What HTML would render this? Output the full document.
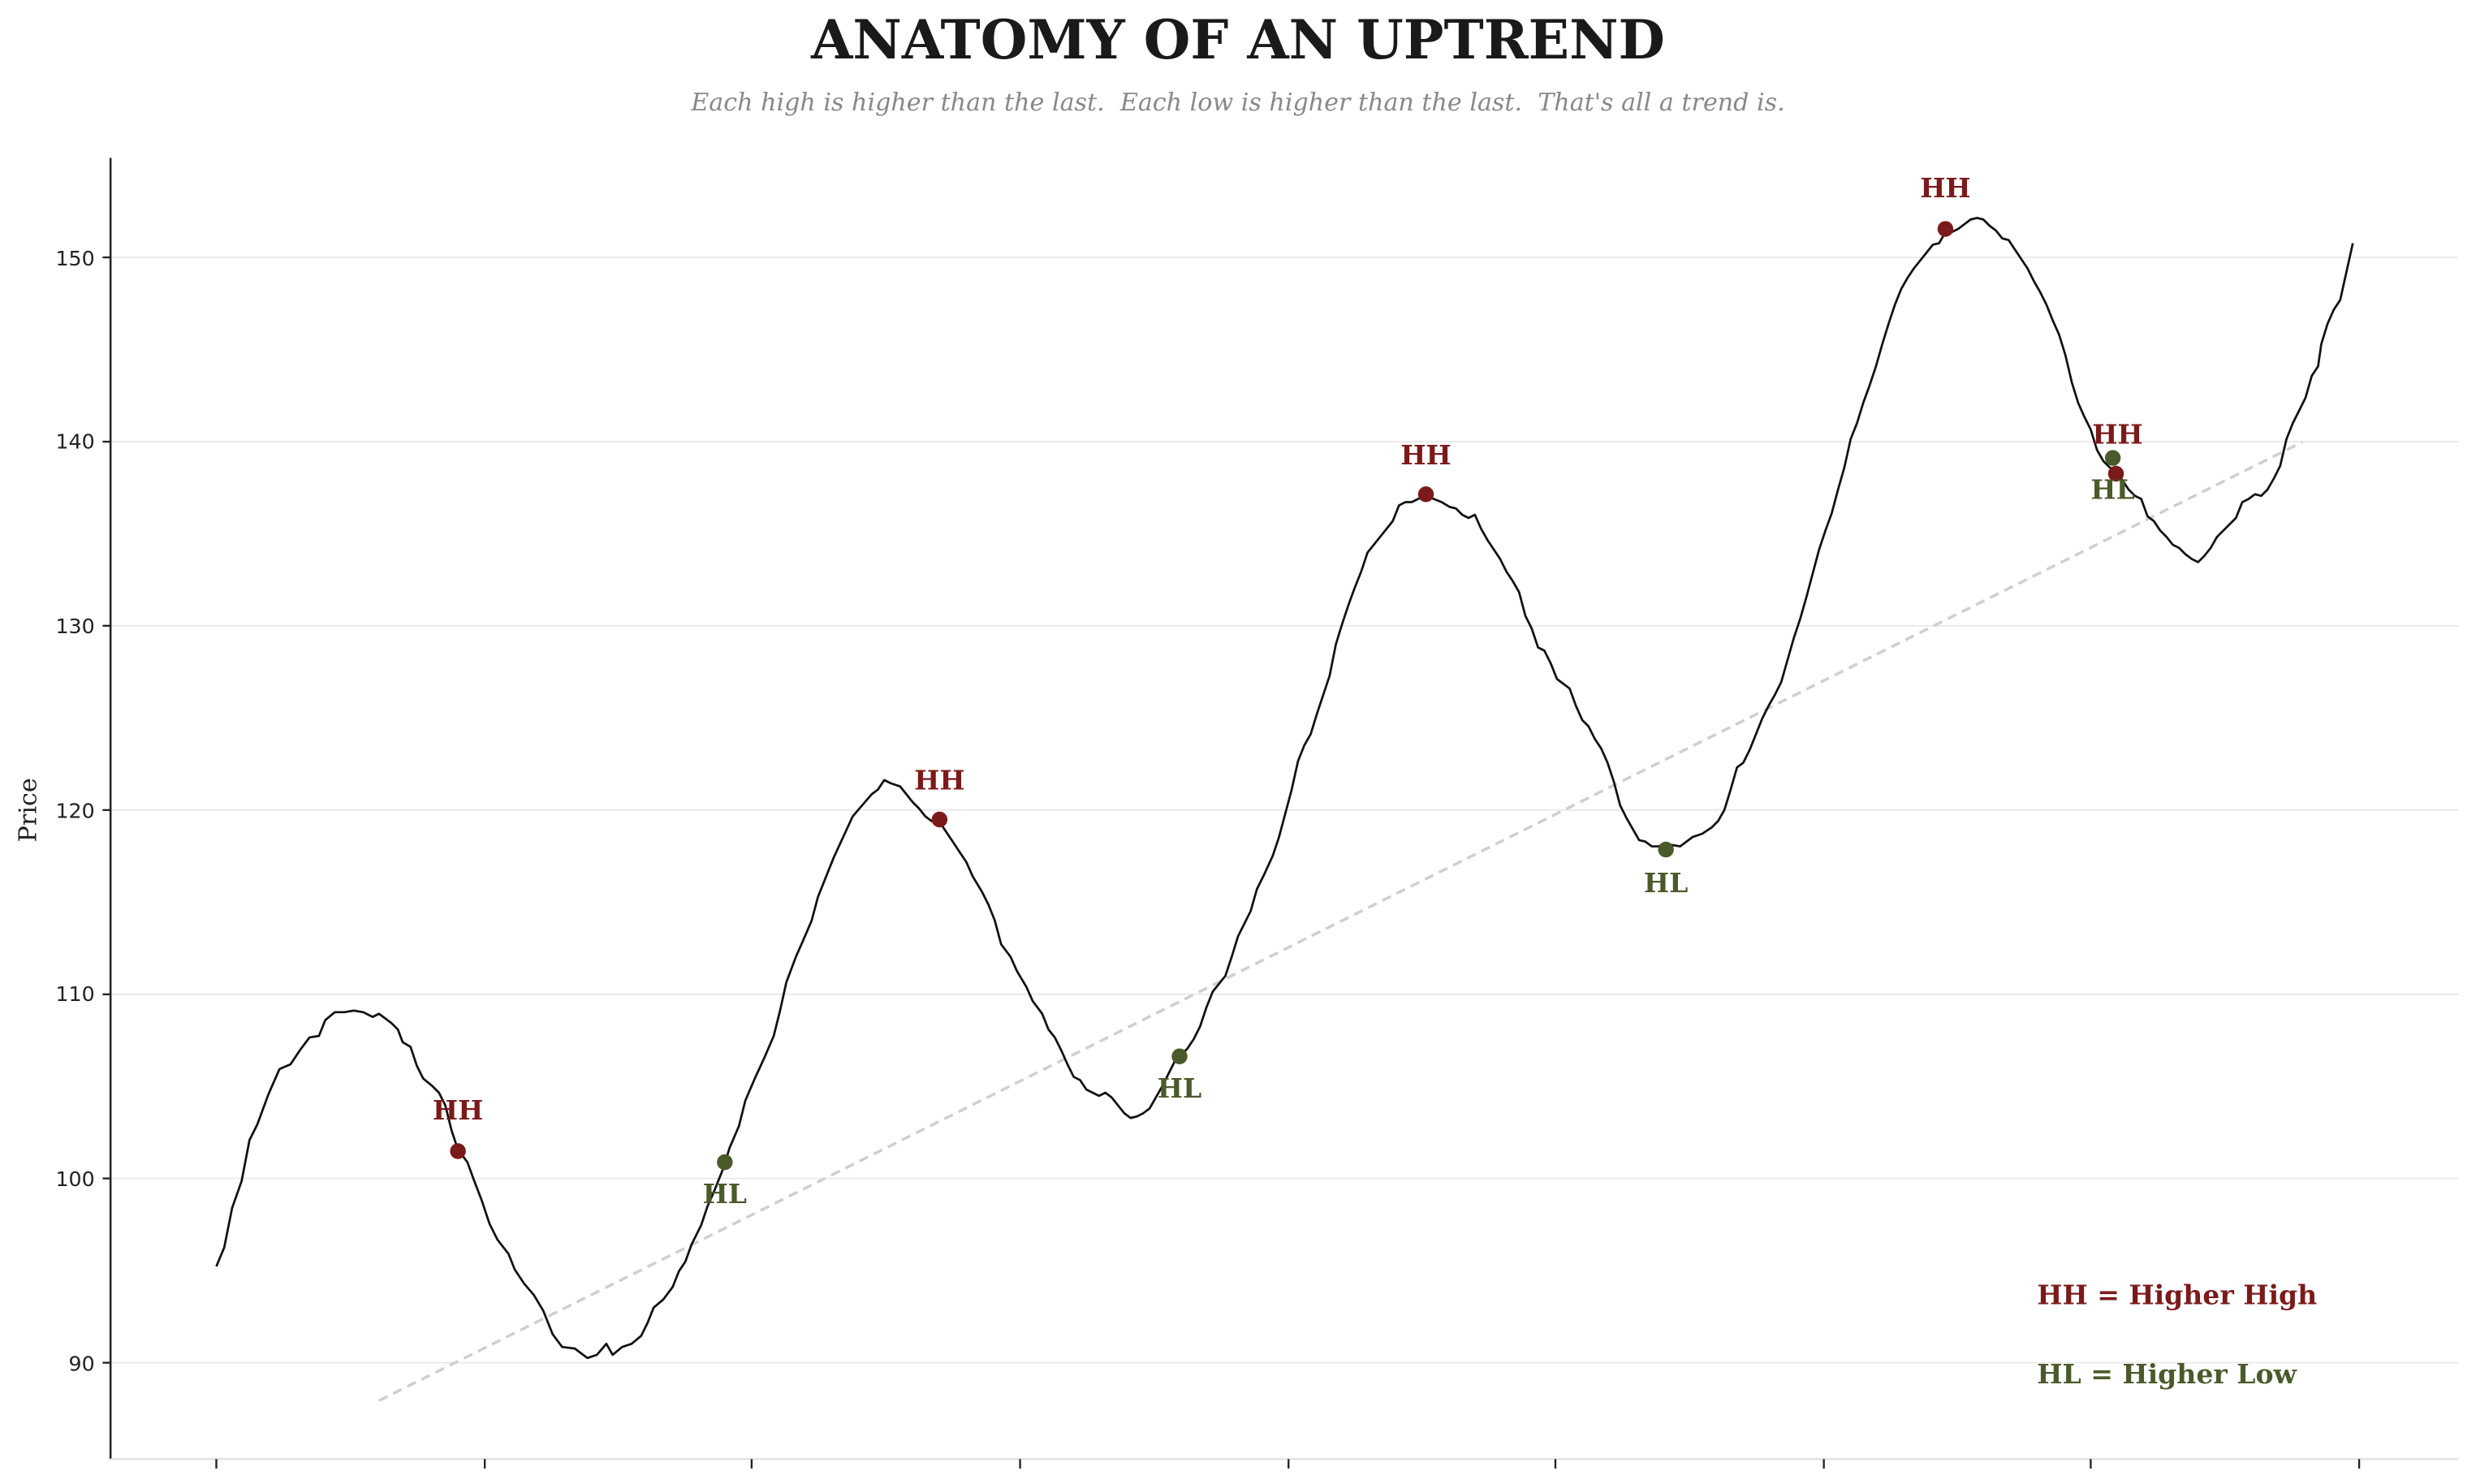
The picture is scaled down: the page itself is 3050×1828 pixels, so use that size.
<!DOCTYPE html>
<html><head><meta charset="utf-8"><style>html,body{margin:0;padding:0;background:#fff;width:3050px;height:1828px;overflow:hidden}svg{display:block}</style></head>
<body>
<svg width="3050" height="1828" viewBox="0 0 1568 939.8" preserveAspectRatio="none" xmlns="http://www.w3.org/2000/svg">
<rect width="1568" height="940" fill="#fff"/>
<text x="784" y="37" text-anchor="middle" font-family="DejaVu Serif, serif" font-weight="bold" font-size="34" fill="#1a1a1a">ANATOMY OF AN UPTREND</text>
<text x="784" y="70" text-anchor="middle" xml:space="preserve" font-family="DejaVu Serif, serif" font-style="italic" font-size="15.5" fill="#888">Each high is higher than the last.  Each low is higher than the last.  That's all a trend is.</text>
<g stroke="#e6e6e6" stroke-width="0.8">
<line x1="70" x2="1557" y1="163" y2="163"/><line x1="70" x2="1557" y1="279.7" y2="279.7"/><line x1="70" x2="1557" y1="396.3" y2="396.3"/><line x1="70" x2="1557" y1="513" y2="513"/><line x1="70" x2="1557" y1="629.7" y2="629.7"/><line x1="70" x2="1557" y1="746.3" y2="746.3"/><line x1="70" x2="1557" y1="863" y2="863"/>
</g>
<line x1="70" x2="70" y1="100" y2="924" stroke="#222" stroke-width="1.3"/>
<line x1="70" x2="1557" y1="924" y2="924" stroke="#ddd" stroke-width="1"/>
<g stroke="#222" stroke-width="1.2">
<line x1="65" x2="70" y1="163" y2="163"/><line x1="65" x2="70" y1="279.7" y2="279.7"/><line x1="65" x2="70" y1="396.3" y2="396.3"/><line x1="65" x2="70" y1="513" y2="513"/><line x1="65" x2="70" y1="629.7" y2="629.7"/><line x1="65" x2="70" y1="746.3" y2="746.3"/><line x1="65" x2="70" y1="863" y2="863"/>
<line x1="137" x2="137" y1="924" y2="930"/><line x1="307" x2="307" y1="924" y2="930"/><line x1="476" x2="476" y1="924" y2="930"/><line x1="646" x2="646" y1="924" y2="930"/><line x1="816" x2="816" y1="924" y2="930"/><line x1="985" x2="985" y1="924" y2="930"/><line x1="1155" x2="1155" y1="924" y2="930"/><line x1="1324" x2="1324" y1="924" y2="930"/><line x1="1494" x2="1494" y1="924" y2="930"/>
</g>
<g font-family="DejaVu Sans, sans-serif" font-size="13" fill="#222" text-anchor="end">
<text x="60" y="168">150</text><text x="60" y="284">140</text><text x="60" y="401">130</text><text x="60" y="518">120</text><text x="60" y="634">110</text><text x="60" y="751">100</text><text x="60" y="868">90</text>
</g>
<text x="23" y="513" transform="rotate(-90 23 513)" text-anchor="middle" font-family="DejaVu Serif, serif" font-size="15.5" fill="#222">Price</text>
<line x1="240" y1="887" x2="1458" y2="280" stroke="#cfcfcf" stroke-width="1.8" stroke-dasharray="6,4"/>
<polyline fill="none" stroke="#111" stroke-width="1.4" stroke-linejoin="round" points="137,802 142,790 147,765 153,748 158,722 163,712 170,693 177,677 184,674 190,665 196,657 202,656 206,646 212,641 218,641 224,640 230,641 236,644 240,642 244,645 248,648 252,652 255,660 260,663 264,675 268,683 274,688 278,692 282,700 286,716 290,728 296,736 300,747 305,760 310,775 315,785 322,794 326,804 332,813 338,820 344,830 350,845 356,853 364,854 372,860 378,858 384,851 388,858 394,853 400,851 406,846 410,838 414,828 420,823 426,815 430,805 434,799 438,788 444,776 448,764 452,755 458,740 462,727 468,713 472,697 478,683 484,670 490,656 494,640 498,622 504,606 508,597 514,583 518,568 522,558 528,543 534,530 540,517 546,510 552,503 556,500 560,494 564,496 570,498 574,503 578,508 582,512 586,517 590,520 596,522 600,528 604,534 608,540 612,546 616,555 622,565 626,573 630,583 634,598 640,606 644,615 650,625 654,634 660,642 664,652 668,657 672,665 676,674 680,682 684,684 688,690 692,692 696,694 700,692 704,695 708,700 712,705 716,708 720,707 724,705 728,702 732,695 736,688 740,680 744,672 748,668 752,664 756,658 760,650 764,638 768,628 772,623 776,618 780,606 784,593 788,585 792,577 796,563 800,555 806,542 810,530 814,515 818,500 822,482 826,472 830,465 834,452 838,440 842,428 846,408 850,395 854,383 858,372 862,362 866,350 870,345 874,340 878,335 882,330 886,320 890,318 894,318 898,316 903,314 908,316 913,318 918,321 922,322 926,326 930,328 934,326 938,335 942,342 946,348 950,354 954,362 958,368 962,375 966,390 970,398 974,410 978,412 982,420 986,430 990,433 994,436 998,447 1002,456 1006,460 1010,468 1014,474 1018,483 1022,495 1026,510 1030,518 1034,525 1038,532 1042,533 1046,536 1050,536 1054,535 1058,535 1064,536 1068,533 1072,530 1078,528 1084,524 1088,520 1092,513 1096,500 1100,486 1104,483 1108,475 1112,465 1116,455 1120,447 1124,440 1128,432 1132,418 1136,404 1140,392 1144,378 1148,363 1152,348 1156,336 1160,325 1164,310 1168,296 1172,278 1176,268 1180,255 1184,244 1188,232 1192,218 1196,205 1200,193 1204,183 1208,176 1212,170 1216,165 1220,160 1224,155 1228,154 1232,147 1236,147 1240,145 1244,142 1248,139 1252,138 1256,139 1260,143 1264,146 1268,151 1272,152 1276,158 1280,164 1284,170 1288,178 1292,185 1296,193 1300,203 1304,212 1308,225 1312,242 1316,255 1320,264 1324,272 1328,285 1332,292 1336,296 1340,298 1344,304 1348,310 1352,314 1356,316 1360,327 1364,330 1368,336 1372,340 1376,345 1380,347 1384,351 1388,354 1392,356 1396,352 1400,347 1404,340 1408,336 1412,332 1416,328 1420,318 1424,316 1428,313 1432,314 1436,310 1440,303 1444,295 1448,278 1452,268 1456,260 1460,252 1464,238 1468,232 1470,218 1474,205 1478,196 1482,190 1486,172 1490,154"/>
<g fill="#7b1a1a"><circle cx="290" cy="729" r="5"/><circle cx="595" cy="519" r="5"/><circle cx="903" cy="313" r="5"/><circle cx="1232" cy="145" r="5"/><circle cx="1340" cy="300" r="5"/></g>
<g fill="#4a5a2a"><circle cx="459" cy="736" r="5"/><circle cx="747" cy="669" r="5"/><circle cx="1055" cy="538" r="5"/><circle cx="1338" cy="290" r="5"/></g>
<g font-family="DejaVu Serif, serif" font-weight="bold" font-size="17" text-anchor="middle" fill="#7b1a1a">
<text x="290" y="709">HH</text><text x="595" y="500">HH</text><text x="903" y="294">HH</text><text x="1232" y="125">HH</text><text x="1341" y="281">HH</text>
</g>
<g font-family="DejaVu Serif, serif" font-weight="bold" font-size="17" text-anchor="middle" fill="#4a5a2a">
<text x="459" y="762">HL</text><text x="747" y="695">HL</text><text x="1055" y="565">HL</text><text x="1338" y="316">HL</text>
</g>
<text x="1290" y="826" font-family="DejaVu Serif, serif" font-weight="bold" font-size="17" fill="#7b1a1a">HH = Higher High</text>
<text x="1290" y="876" font-family="DejaVu Serif, serif" font-weight="bold" font-size="17" fill="#4a5a2a">HL = Higher Low</text>
</svg>
</body></html>
